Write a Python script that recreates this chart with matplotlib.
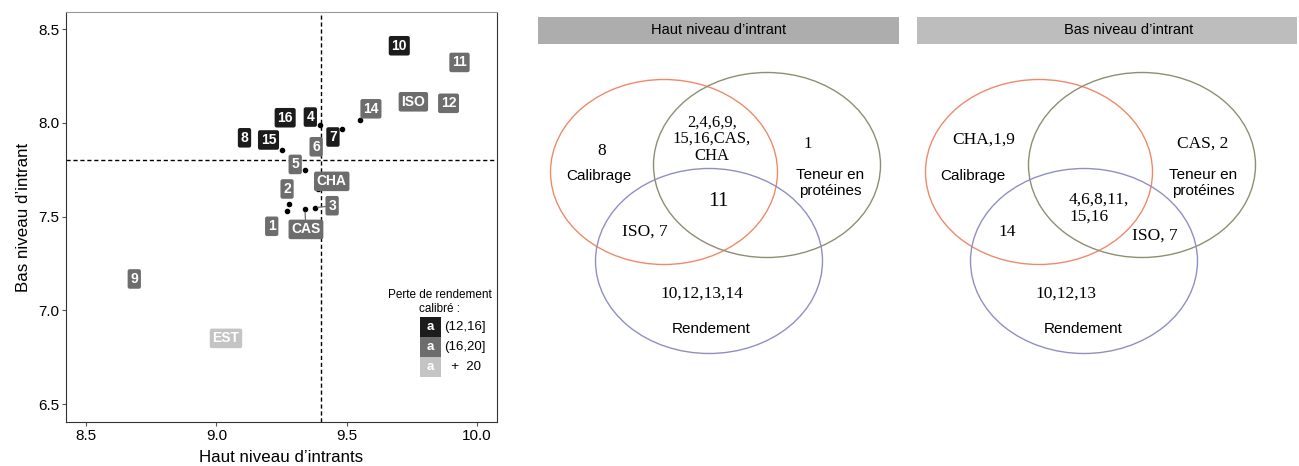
import matplotlib
matplotlib.use("Agg")
import matplotlib.pyplot as plt
from matplotlib.patches import Ellipse, Rectangle

plt.rcParams['font.family'] = ['Liberation Sans', 'DejaVu Sans']

# scatter data: genotype, yield at high input, yield at low input, loss class
names = ['1', '2', '3', '4', '5', '6', '7', '8', '9', '10', '11', '12', '14',
         '15', '16', 'ISO', 'CHA', 'CAS', 'EST']
haut = [9.270, 9.279, 9.379, 9.399, 9.341, 9.383, 9.482, 9.108, 8.685, 9.702,
        9.933, 9.891, 9.551, 9.250, 9.264, 9.756, 9.389, 9.340, 9.037]
bas = [7.528, 7.567, 7.547, 7.988, 7.746, 7.872, 7.967, 7.920, 7.167, 8.411,
       8.322, 8.104, 8.016, 7.855, 8.027, 8.112, 7.645, 7.538, 6.850]
perte = [1, 1, 1, 0, 1, 1, 0, 0, 1, 0, 1, 1, 1, 0, 0, 1, 1, 1, 2]
perte_labels = ['(12,16]', '(16,20]', '  +  20']
ref_haut = 9.40
ref_bas = 7.80

# venn contents
venn_titles = ["Haut niveau d\u2019intrant", "Bas niveau d\u2019intrant"]
venn_haut = ['8', '2,4,6,9,\n15,16,CAS,\nCHA', '1', '11', 'ISO, 7', '10,12,13,14']
venn_bas = ['CHA,1,9', 'CAS, 2', '4,6,8,11,\n15,16', '14', 'ISO, 7', '10,12,13']
sets = ['Calibrage', 'Teneur en\nprot\u00e9ines', 'Rendement']

colors = ['#1c1c1c', '#6d6d6d', '#c4c4c4']

# label offsets from ggrepel-like layout (pixels)
offsets = {'1': (-15, -15), '2': (-2, 15), '3': (17, 2), '4': (-10, 8),
           '5': (-10, 6), '7': (-9, -8), '14': (11, 11), '15': (-13, 10),
           'CHA': (14, 8), 'CAS': (1, -20)}
segments = ['3', 'CHA', 'CAS']

fig = plt.figure(figsize=(12.99, 4.66), dpi=100)
ax = fig.add_axes([66 / 1299, 44 / 466, 431 / 1299, 410 / 466])

ax.axvline(ref_haut, color='black', ls=(0, (3, 2)), lw=1, zorder=1)
ax.axhline(ref_bas, color='black', ls=(0, (3, 2)), lw=1, zorder=1)
ax.scatter(haut, bas, s=9, color='black', zorder=2)

for n, x, y, p in zip(names, haut, bas, perte):
    dx, dy = offsets.get(n, (0, 0))
    arrow = None
    if n in segments:
        arrow = dict(arrowstyle='-', color='#6d6d6d', lw=0.9, shrinkA=0, shrinkB=2)
    ax.annotate(n, (x, y), xytext=(dx, dy), textcoords='offset pixels',
                ha='center', va='center', fontsize=10, fontweight='bold',
                color='white', zorder=3, arrowprops=arrow,
                bbox=dict(boxstyle='round,pad=0.2,rounding_size=0.15',
                          fc=colors[p], ec='none'))

ax.set_xlim(8.423, 10.077)
ax.set_ylim(6.404, 8.591)
ax.set_xticks([8.5, 9.0, 9.5, 10.0])
ax.set_yticks([6.5, 7.0, 7.5, 8.0, 8.5])
ax.tick_params(labelsize=11, length=3, color='#555555', pad=2)
for s in ['left', 'bottom', 'right']:
    ax.spines[s].set_color('#333333')
ax.spines['top'].set_color('#999999')
ax.set_xlabel('Haut niveau d\u2019intrants', fontsize=12.2, labelpad=5)
ax.set_ylabel('Bas niveau d\u2019intrant', fontsize=12.2, labelpad=5)

# overlay in pixel coordinates for legend and venn diagrams
ov = fig.add_axes([0, 0, 1, 1])
ov.set_xlim(0, 1299)
ov.set_ylim(466, 0)
ov.axis('off')
ov.patch.set_visible(False)

# legend
ov.text(440, 302, 'Perte de rendement\ncalibr\u00e9 :', ha='center', va='center',
        fontsize=8.5, linespacing=1.3)
for i, lab in enumerate(perte_labels):
    y0 = 317 + i * 20
    ov.add_patch(Rectangle((420, y0), 21, 20, fc=colors[i], ec='none'))
    ov.text(430.5, y0 + 10, 'a', ha='center', va='center', color='white',
            fontsize=9.5, fontweight='bold')
    ov.text(444, y0 + 10, lab, ha='left', va='center', fontsize=9.5)

# venn diagrams
ell_cols = ['#ee8a6a', '#8e8e72', '#9090c0']
serif = ['Liberation Serif', 'DejaVu Serif']
panels = [
    dict(x0=538, x1=899, hc='#adadad',
         centers=[(664, 172), (767, 165), (709, 261)],
         texts=[(602, 151), (712, 139), (808, 144), (718, 202), (645, 232), (702, 294)],
         sizes=[12.5, 12, 12, 15.5, 12.5, 12.5],
         labs=[(599, 176), (830, 183), (711, 329)], vals=venn_haut),
    dict(x0=917, x1=1297, hc='#bdbdbd',
         centers=[(1039, 172), (1142, 165), (1084, 261)],
         texts=[(984, 140), (1203, 144), (1069, 208), (1007, 232), (1155, 236), (1066, 294)],
         sizes=[12.5, 12.5, 12.5, 12.5, 12.5, 12.5],
         labs=[(973, 176), (1203, 183), (1083, 329)], vals=venn_bas),
]
for k, pn in enumerate(panels):
    ov.add_patch(Rectangle((pn['x0'], 17), pn['x1'] - pn['x0'], 27,
                           fc=pn['hc'], ec='none'))
    ov.text((pn['x0'] + pn['x1']) / 2 if k == 0 else 1129, 30.5,
            venn_titles[k], ha='center', va='center', fontsize=10.5)
    for (cx, cy), c in zip(pn['centers'], ell_cols):
        ov.add_patch(Ellipse((cx, cy), 227, 185, fill=False, ec=c, lw=1))
    for (tx, ty), v, fs in zip(pn['texts'], pn['vals'], pn['sizes']):
        left = k == 1 and '\n' in v
        ov.text(tx, ty, v, ha='left' if left else 'center', va='center',
                fontsize=fs, family=serif, linespacing=1.05,
                multialignment='left' if left else 'center')
    for (lx, ly), s in zip(pn['labs'], sets):
        ov.text(lx, ly, s, ha='center', va='center', fontsize=11, linespacing=1.2)

fig.savefig('out.png', dpi=100)
